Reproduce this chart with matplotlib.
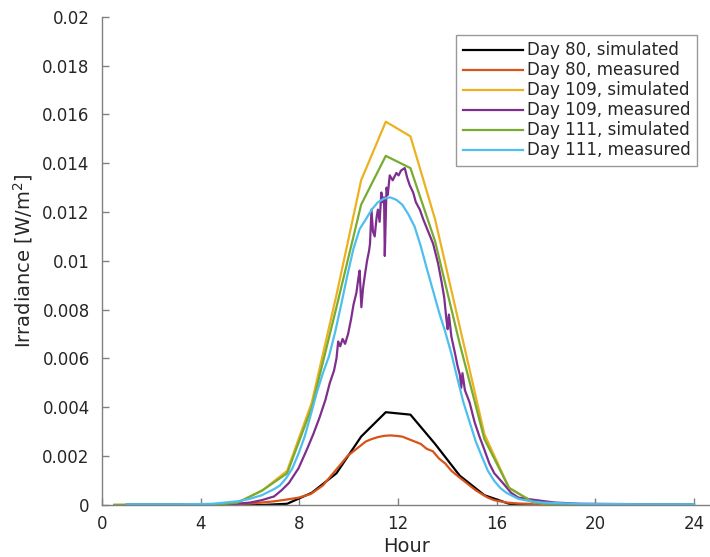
import matplotlib
matplotlib.use("Agg")
import matplotlib.pyplot as plt
from matplotlib.ticker import FuncFormatter

# ---------------- data ----------------
sim_hours = [0.5, 1.5, 2.5, 3.5, 4.5, 5.5, 6.5, 7.5, 8.5, 9.5, 10.5, 11.5,
             12.5, 13.5, 14.5, 15.5, 16.5, 17.5, 18.5, 19.5, 20.5, 21.5, 22.5, 23.5]

day80_sim = [0, 0, 0, 0, 0, 0, 0, 0.00005, 0.0005, 0.0013, 0.0028, 0.0038,
             0.0037, 0.0025, 0.0012, 0.0004, 0.00005, 0, 0, 0, 0, 0, 0, 0]
day109_sim = [0, 0, 0, 0, 0, 0.0001, 0.0006, 0.0014, 0.0042, 0.0086, 0.0133, 0.0157,
              0.0151, 0.0117, 0.0073, 0.0029, 0.0007, 0.0001, 0, 0, 0, 0, 0, 0]
day111_sim = [0, 0, 0, 0, 0, 0.0001, 0.0006, 0.0013, 0.0040, 0.0081, 0.0123, 0.0143,
              0.0138, 0.0108, 0.0066, 0.0027, 0.0007, 0.0001, 0, 0, 0, 0, 0, 0]

day80_meas_h = [1, 4, 5, 6, 6.48, 6.97, 7.47, 7.96, 8.46, 8.95, 9.2, 9.45, 9.7, 9.94,
                10.19, 10.44, 10.69, 10.93, 11.18, 11.43, 11.68, 11.93, 12.17, 12.42,
                12.67, 12.92, 13.16, 13.41, 13.66, 13.91, 14.16, 14.40, 14.65, 14.90,
                15.15, 15.39, 15.64, 15.89, 16.39, 16.88, 17.87, 19.86, 24]
day80_meas = [0.00002, 0.00002, 0.00003, 0.00006, 0.0001, 0.00015, 0.00022, 0.0003,
              0.00045, 0.0008, 0.0011, 0.0014, 0.0017, 0.0020, 0.0022, 0.0024, 0.0026,
              0.0027, 0.00278, 0.00283, 0.00285, 0.00283, 0.0028, 0.0027, 0.0026,
              0.0025, 0.0023, 0.0022, 0.0019, 0.0017, 0.0014, 0.0012, 0.0010, 0.0008,
              0.0006, 0.00045, 0.0003, 0.0002, 0.0001, 0.00006, 0.00003, 0.00002, 0.00002]

day109_meas_h = [1, 5, 5.5, 6.0, 6.48, 6.97, 7.27, 7.57, 7.96, 8.29, 8.56, 8.82, 9.05,
                 9.23, 9.40, 9.50, 9.57, 9.65, 9.75, 9.85, 9.97, 10.09, 10.19, 10.31,
                 10.39, 10.44, 10.51, 10.58, 10.65, 10.74, 10.82, 10.86, 10.92, 10.98,
                 11.05, 11.13, 11.18, 11.25, 11.32, 11.38, 11.43, 11.46, 11.53, 11.58,
                 11.66, 11.78, 11.93, 12.02, 12.12, 12.27, 12.37, 12.47, 12.61, 12.72,
                 12.88, 13.02, 13.22, 13.42, 13.62, 13.77, 13.87, 13.96, 14.01, 14.06,
                 14.16, 14.31, 14.41, 14.51, 14.56, 14.61, 14.71, 14.9, 15.1, 15.3,
                 15.45, 15.7, 15.9, 16.25, 16.58, 16.88, 17.58, 18.35, 19.35, 24]
day109_meas = [0.00002, 0.00003, 0.00005, 0.0001, 0.0002, 0.00035, 0.0006, 0.0009,
               0.0015, 0.00225, 0.0029, 0.0036, 0.0043, 0.0050, 0.0055, 0.0060, 0.0067,
               0.0065, 0.0068, 0.0066, 0.0070, 0.0076, 0.0082, 0.0087, 0.0093, 0.0096,
               0.0081, 0.0089, 0.0094, 0.0100, 0.0104, 0.0107, 0.0121, 0.0112, 0.0110,
               0.0118, 0.0121, 0.0116, 0.0128, 0.0124, 0.0126, 0.0102, 0.0130, 0.0127,
               0.0135, 0.0133, 0.0136, 0.0135, 0.0137, 0.0138, 0.0134, 0.0131, 0.0128,
               0.0124, 0.0121, 0.0117, 0.0112, 0.0107, 0.0099, 0.0091, 0.0085, 0.0076,
               0.0072, 0.0078, 0.0069, 0.0062, 0.0057, 0.0053, 0.0048, 0.0054, 0.0047,
               0.0042, 0.0034, 0.0028, 0.0024, 0.0017, 0.0013, 0.0009, 0.0005, 0.0003,
               0.0002, 0.0001, 0.00005, 0.00002]

day111_meas_h = [1, 2, 3, 4, 4.49, 4.97, 5.48, 5.98, 6.47, 6.97, 7.21, 7.46, 7.71, 7.96,
                 8.21, 8.46, 8.70, 8.95, 9.2, 9.45, 9.69, 9.94, 10.19, 10.44, 10.69,
                 10.93, 11.18, 11.43, 11.68, 11.93, 12.17, 12.42, 12.67, 12.92, 13.16,
                 13.41, 13.66, 13.91, 14.16, 14.40, 14.65, 14.90, 15.15, 15.39, 15.64,
                 15.89, 16.14, 16.39, 16.88, 17.38, 17.87, 18.87, 19.86, 21.84, 24]
day111_meas = [0.00003, 0.00003, 0.00003, 0.00004, 0.00005, 0.0001, 0.00015, 0.00025,
               0.0004, 0.00065, 0.0008, 0.0011, 0.0015, 0.0021, 0.0028, 0.0037, 0.0046,
               0.0054, 0.0061, 0.0071, 0.0082, 0.0094, 0.0105, 0.0113, 0.0117, 0.0121,
               0.0124, 0.01255, 0.0126, 0.0125, 0.0123, 0.0119, 0.0114, 0.0106, 0.0097,
               0.0088, 0.0079, 0.0071, 0.0062, 0.0052, 0.0042, 0.0034, 0.0026, 0.0020,
               0.0014, 0.0010, 0.0007, 0.0005, 0.00025, 0.00015, 0.0001, 0.00006,
               0.00004, 0.00003, 0.00003]

labels = ["Day 80, simulated", "Day 80, measured", "Day 109, simulated",
          "Day 109, measured", "Day 111, simulated", "Day 111, measured"]
colors = ["#000000", "#D95319", "#EDB120", "#7E2F8E", "#77AC30", "#4DBEEE"]

x_ticks = [0, 4, 8, 12, 16, 20, 24]
y_ticks = [0, 0.002, 0.004, 0.006, 0.008, 0.01, 0.012, 0.014, 0.016, 0.018, 0.02]

# ---------------- plot ----------------
plt.rcParams['font.family'] = ['DejaVu Sans']
fig = plt.figure(figsize=(7.1, 5.57), dpi=100)
ax = fig.add_axes([0.144, 0.0934, 0.856, 0.8766])

series = [(sim_hours, day80_sim), (day80_meas_h, day80_meas),
          (sim_hours, day109_sim), (day109_meas_h, day109_meas),
          (sim_hours, day111_sim), (day111_meas_h, day111_meas)]
for (xs, ys), lab, col in zip(series, labels, colors):
    ax.plot(xs, ys, color=col, lw=1.6, label=lab)

ax.set_xlim(0, 24.65)
ax.set_ylim(0, 0.02)
ax.set_xticks(x_ticks)
ax.set_yticks(y_ticks)
ax.yaxis.set_major_formatter(FuncFormatter(lambda v, p: "%g" % v))

for s in ["top", "right"]:
    ax.spines[s].set_visible(False)
for s in ["left", "bottom"]:
    ax.spines[s].set_color("#808080")
    ax.spines[s].set_linewidth(1.0)
ax.tick_params(direction="in", length=5, width=1.0, color="#808080",
               labelcolor="#262626", labelsize=12)
ax.tick_params(axis="y", pad=9)
ax.tick_params(axis="x", pad=7)

ax.set_xlabel("Hour", fontsize=14, color="#262626", labelpad=3)
ax.set_ylabel("Irradiance [W/m$^{2}$]", fontsize=14, color="#262626", labelpad=5)

leg = ax.legend(loc="upper right", bbox_to_anchor=(0.979, 0.963), fontsize=12,
                frameon=True, fancybox=False, edgecolor="#808080",
                handlelength=3.6, handletextpad=0.25, labelspacing=0.12,
                borderpad=0.4, borderaxespad=0.0)
leg.get_frame().set_linewidth(1.0)
for t in leg.get_texts():
    t.set_color("#262626")

fig.savefig("out.png", dpi=100)
